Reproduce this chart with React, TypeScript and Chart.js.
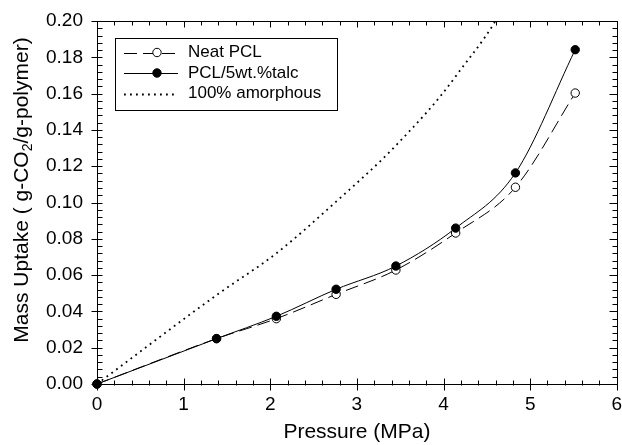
import React, { useEffect, useRef } from "react";
import { Chart, registerables } from "chart.js";

Chart.register(...registerables);

// ---- data ----
const pressureMPa = [0, 1.38, 2.07, 2.76, 3.45, 4.14, 4.83, 5.52];
const neatPCL = [0, 0.025, 0.036, 0.0494, 0.0628, 0.0832, 0.1084, 0.1603];
const talcPCL = [0, 0.025, 0.0373, 0.0522, 0.065, 0.0859, 0.1163, 0.1842];
const amorphous = [0, 0.049, 0.072, 0.1005, 0.1314, 0.1695, 0.222, 0.327];
const seriesLabels = ["Neat PCL", "PCL/5wt.%talc", "100% amorphous"];
const xAxisTitle = "Pressure (MPa)";
const yTitleParts = ["Mass Uptake ( g-CO", "2", "/g-polymer)"];
const xMin = 0, xMax = 6, xStep = 1, xMinorStep = 0.2;
const yMin = 0, yMax = 0.2, yStep = 0.02, yMinorStep = 0.004;

const FONT = "'Liberation Sans', Arial, Helvetica, sans-serif";

const pts = (ys: number[]) => pressureMPa.map((x, i) => ({ x, y: ys[i] }));

const decorPlugin = {
  id: "decor",
  beforeDatasetsDraw(chart: any) {
    const ctx = chart.ctx;
    const { left, right, top, bottom } = chart.chartArea;
    const xs = chart.scales.x;
    const ys = chart.scales.y;
    const L = Math.round(left) + 0.5, R = Math.round(right) + 0.5;
    const T = Math.round(top) + 0.5, B = Math.round(bottom) + 0.5;
    ctx.save();
    ctx.strokeStyle = "#000";
    ctx.lineWidth = 1;
    ctx.setLineDash([]);
    ctx.strokeRect(L, T, R - L, B - T);
    ctx.beginPath();
    const nY = Math.round((yMax - yMin) / yMinorStep);
    const perMajorY = Math.round(yStep / yMinorStep);
    for (let i = 0; i <= nY; i++) {
      const py = Math.round(ys.getPixelForValue(yMin + i * yMinorStep)) + 0.5;
      const major = i % perMajorY === 0;
      ctx.moveTo(major ? L - 6 : L, py);
      ctx.lineTo(L + 5, py);
      ctx.moveTo(R - (major ? 8 : 5), py);
      ctx.lineTo(R, py);
    }
    const nX = Math.round((xMax - xMin) / xMinorStep);
    const perMajorX = Math.round(xStep / xMinorStep);
    for (let i = 0; i <= nX; i++) {
      const px = Math.round(xs.getPixelForValue(xMin + i * xMinorStep)) + 0.5;
      const major = i % perMajorX === 0;
      ctx.moveTo(px, B - (major ? 6 : 4));
      ctx.lineTo(px, B + (major ? 6 : 1));
      ctx.moveTo(px, T);
      ctx.lineTo(px, T + (major ? 6 : 4));
    }
    ctx.stroke();
    ctx.restore();
  },
  afterDraw(chart: any) {
    const ctx = chart.ctx;
    ctx.save();
    // y-axis title with subscript
    ctx.fillStyle = "#000";
    ctx.textBaseline = "middle";
    ctx.textAlign = "left";
    const mainFont = `21px ${FONT}`;
    const subFont = `14px ${FONT}`;
    ctx.font = mainFont;
    const w1 = ctx.measureText(yTitleParts[0]).width;
    const w3 = ctx.measureText(yTitleParts[2]).width;
    ctx.font = subFont;
    const w2 = ctx.measureText(yTitleParts[1]).width;
    const total = w1 + w2 + w3;
    ctx.translate(22, 190);
    ctx.rotate(-Math.PI / 2);
    const x0 = -total / 2;
    ctx.font = mainFont;
    ctx.fillText(yTitleParts[0], x0, 0);
    ctx.font = subFont;
    ctx.fillText(yTitleParts[1], x0 + w1, 6);
    ctx.font = mainFont;
    ctx.fillText(yTitleParts[2], x0 + w1 + w2, 0);
    ctx.restore();

    // legend
    ctx.save();
    const bx = 115.5, by = 38.5, bw = 222, bh = 72;
    ctx.fillStyle = "#fff";
    ctx.fillRect(bx, by, bw, bh);
    ctx.strokeStyle = "#000";
    ctx.lineWidth = 1;
    ctx.setLineDash([]);
    ctx.strokeRect(bx, by, bw, bh);
    const rowsY = [52.5, 73, 93.5];
    chart.data.datasets.forEach((ds: any, i: number) => {
      const y = rowsY[i];
      ctx.save();
      ctx.strokeStyle = ds.borderColor;
      ctx.lineWidth = ds.borderWidth;
      ctx.setLineDash(ds.borderDash || []);
      ctx.lineDashOffset = ds.legendDashOffset || 0;
      ctx.beginPath();
      ctx.moveTo(124, Math.round(y) + 0.5);
      ctx.lineTo(178, Math.round(y) + 0.5);
      ctx.stroke();
      ctx.restore();
      if (ds.pointRadius > 0) {
        ctx.save();
        ctx.beginPath();
        ctx.arc(157, y, ds.pointRadius, 0, Math.PI * 2);
        ctx.fillStyle = ds.pointBackgroundColor;
        ctx.fill();
        ctx.strokeStyle = ds.pointBorderColor;
        ctx.lineWidth = 1;
        ctx.stroke();
        ctx.restore();
      }
      ctx.fillStyle = "#000";
      ctx.font = `17px ${FONT}`;
      ctx.textBaseline = "middle";
      ctx.textAlign = "left";
      ctx.fillText(ds.label, 188, y);
    });
    ctx.restore();
  },
};

export default function App() {
  const ref = useRef<HTMLCanvasElement | null>(null);
  useEffect(() => {
    if (!ref.current) return;
    const chart = new Chart(ref.current, {
      type: "line",
      data: {
        datasets: [
          {
            label: seriesLabels[0],
            data: pts(neatPCL),
            borderColor: "#000",
            borderWidth: 1,
            borderDash: [13, 6],
            legendDashOffset: 0,
            pointRadius: 4.2,
            pointBackgroundColor: "#fff",
            pointBorderColor: "#000",
            pointBorderWidth: 1,
            cubicInterpolationMode: "monotone",
            clip: false,
            order: 1,
          } as any,
          {
            label: seriesLabels[1],
            data: pts(talcPCL),
            borderColor: "#000",
            borderWidth: 1,
            pointRadius: 4.2,
            pointBackgroundColor: "#000",
            pointBorderColor: "#000",
            pointBorderWidth: 1,
            cubicInterpolationMode: "monotone",
            clip: false,
            order: 0,
          } as any,
          {
            label: seriesLabels[2],
            data: pts(amorphous),
            borderColor: "#000",
            borderWidth: 1.8,
            borderDash: [1.8, 4.2],
            pointRadius: 0,
            cubicInterpolationMode: "monotone",
            order: 2,
          } as any,
        ],
      },
      options: {
        animation: false,
        responsive: false,
        events: [],
        layout: { padding: { top: 21, right: 4, left: 0, bottom: 0 } },
        plugins: { legend: { display: false }, tooltip: { enabled: false }, title: { display: false } },
        scales: {
          x: {
            type: "linear",
            min: xMin,
            max: xMax,
            grid: { display: false, drawTicks: false },
            border: { display: false },
            ticks: {
              stepSize: xStep,
              padding: 9,
              color: "#000",
              font: { family: FONT, size: 19 },
              callback: (v: any) => String(Number(v)),
              maxRotation: 0,
            },
            title: {
              display: true,
              text: xAxisTitle,
              color: "#000",
              font: { family: FONT, size: 21 },
              padding: { top: 0, bottom: 0 },
            },
            afterFit: (s: any) => { s.height = 61; s.paddingLeft = 0; s.paddingRight = 0; },
          },
          y: {
            type: "linear",
            min: yMin,
            max: yMax,
            grid: { display: false, drawTicks: false },
            border: { display: false },
            ticks: {
              stepSize: yStep,
              padding: 14,
              color: "#000",
              font: { family: FONT, size: 19 },
              callback: (v: any) => Number(v).toFixed(2),
            },
            afterFit: (s: any) => { s.width = 97; s.paddingTop = 0; s.paddingBottom = 0; },
          },
        },
      } as any,
      plugins: [decorPlugin],
    });
    return () => chart.destroy();
  }, []);
  return (
    <div style={{ position: "fixed", left: 0, top: 0, width: 622, height: 445, background: "#fff" }}>
      <canvas ref={ref} width={622} height={445} style={{ display: "block" }} />
    </div>
  );
}
